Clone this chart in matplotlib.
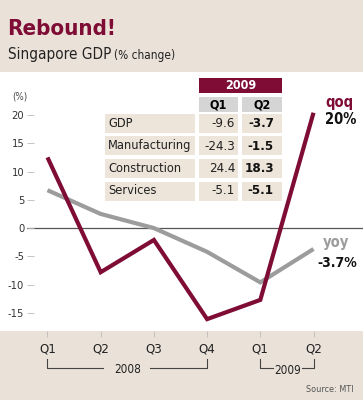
import matplotlib
matplotlib.use('Agg')
import matplotlib.pyplot as plt
from matplotlib.patches import Rectangle

# quarterly data
quarters = ['Q1', 'Q2', 'Q3', 'Q4', 'Q1', 'Q2']
qoq = [12.5, -7.8, -2.1, -16.1, -12.7, 20.4]
yoy = [6.7, 2.5, 0.0, -4.2, -9.6, -3.7]
yticks = [20, 15, 10, 5, 0, -5, -10, -15]

# table in the top part of the chart
sectors = ['GDP', 'Manufacturing', 'Construction', 'Services']
q1_2009 = ['-9.6', '-24.3', '24.4', '-5.1']
q2_2009 = ['-3.7', '-1.5', '18.3', '-5.1']

RED = '#7E0C35'
GREY = '#9C9C9C'
BEIGE = '#EAE2D9'
CELL = '#EDE4DA'

plt.rcParams['font.family'] = ['DejaVu Sans']
plt.rcParams['font.stretch'] = 'condensed'

W, H = 363, 400
fig = plt.figure(figsize=(W / 100, H / 100), dpi=100)


def fx(x):
    return x / W


def fy(y):
    return 1 - y / H


def box(x0, y0, x1, y1, color):
    fig.patches.append(Rectangle((fx(x0), fy(y1)), fx(x1 - x0), (y1 - y0) / H,
                                 transform=fig.transFigure, color=color, lw=0, zorder=-1))


# background bands
box(0, 0, W, 72, BEIGE)
box(0, 331, W, H, BEIGE)

fig.text(fx(7), fy(29), 'Rebound!', color=RED, fontsize=16, fontweight='bold', va='center')
sub = fig.text(fx(8), fy(55), 'Singapore GDP', color='#222222', fontsize=11, va='center')
r = fig.canvas.get_renderer()
end = sub.get_window_extent(r).x1
fig.text(end / W + fx(3), fy(56), '(% change)', color='#222222', fontsize=8.5, va='center')

# plot area
ax = fig.add_axes([fx(27), fy(331), fx(W - 27), (331 - 72) / H])
ax.set_facecolor('none')
x = list(range(len(quarters)))
ax.plot(x, yoy, color=GREY, lw=3, solid_capstyle='butt', solid_joinstyle='miter', zorder=3)
ax.plot(x, qoq, color=RED, lw=3, solid_capstyle='butt', solid_joinstyle='miter', zorder=4)
ax.axhline(0, color='#555555', lw=0.9, zorder=1)

ax.set_ylim(-18.2, 27.6)
ax.set_xlim(-0.385, 5.93)
ax.set_yticks(yticks)
ax.set_yticklabels([str(v) for v in yticks])
ax.set_xticks(x)
ax.set_xticklabels(quarters)
ax.tick_params(axis='y', direction='in', length=5, width=0.6, color='#BBBBBB',
               pad=2, labelsize=8, labelcolor='#333333')
ax.tick_params(axis='x', direction='out', length=4, width=0.6, color='#BBBBBB',
               pad=4, labelsize=9.5, labelcolor='#222222')
for s in ax.spines.values():
    s.set_visible(False)

ax.text(-0.67, 23.3, '(%)', fontsize=7, color='#444444', ha='left', va='center')

# end labels
ax.text(5.22, 22.2, 'qoq', color=RED, fontsize=10.5, fontweight='bold', va='center')
ax.text(5.22, 19.2, '20%', color='#111111', fontsize=10.5, fontweight='bold', va='center')
ax.text(5.18, -2.6, 'yoy', color=GREY, fontsize=10.5, fontweight='bold', va='center')
ax.text(5.07, -6.2, '-3.7%', color='#111111', fontsize=10, fontweight='bold', va='center')

# year brackets under the quarter labels
tr = ax.get_xaxis_transform()
bk = dict(color='#444444', lw=0.8, transform=tr, clip_on=False)
yt, yb = -0.108, -0.143
ax.plot([0, 0, 1.05], [yt, yb, yb], **bk)
ax.plot([1.93, 3, 3], [yb, yb, yt], **bk)
ax.text(1.5, yb - 0.005, '2008', ha='center', va='center', fontsize=8.5, color='#222222', transform=tr)
ax.plot([4, 4, 4.23], [yt, yb, yb], **bk)
ax.plot([4.79, 5, 5], [yb, yb, yt], **bk)
ax.text(4.51, yb - 0.01, '2009', ha='center', va='center', fontsize=8.5, color='#222222', transform=tr)

fig.text(fx(354), fy(389), 'Source: MTI', ha='right', va='center', fontsize=6.5, color='#555555')

# table
box(199, 78, 282, 93, RED)
fig.text(fx(240.5), fy(85.5), '2009', color='white', fontsize=9, fontweight='bold',
         ha='center', va='center')
box(199, 97, 238, 112, '#D5D5D5')
box(242, 97, 282, 112, '#D5D5D5')
fig.text(fx(218.5), fy(104.5), 'Q1', fontsize=9, fontweight='bold', ha='center', va='center')
fig.text(fx(262), fy(104.5), 'Q2', fontsize=9, fontweight='bold', ha='center', va='center')
for i, name in enumerate(sectors):
    top = 114 + i * 22.5
    mid = top + 9.5
    box(105, top, 195, top + 19, CELL)
    box(199, top, 238, top + 19, CELL)
    box(242, top, 282, top + 19, CELL)
    fig.text(fx(108), fy(mid), name, fontsize=9.2, color='#222222', va='center')
    fig.text(fx(235), fy(mid), q1_2009[i], fontsize=9.5, color='#222222', ha='right', va='center')
    fig.text(fx(274), fy(mid), q2_2009[i], fontsize=9.5, fontweight='bold', color='#111111',
             ha='right', va='center')

fig.savefig('out.png', dpi=100)
